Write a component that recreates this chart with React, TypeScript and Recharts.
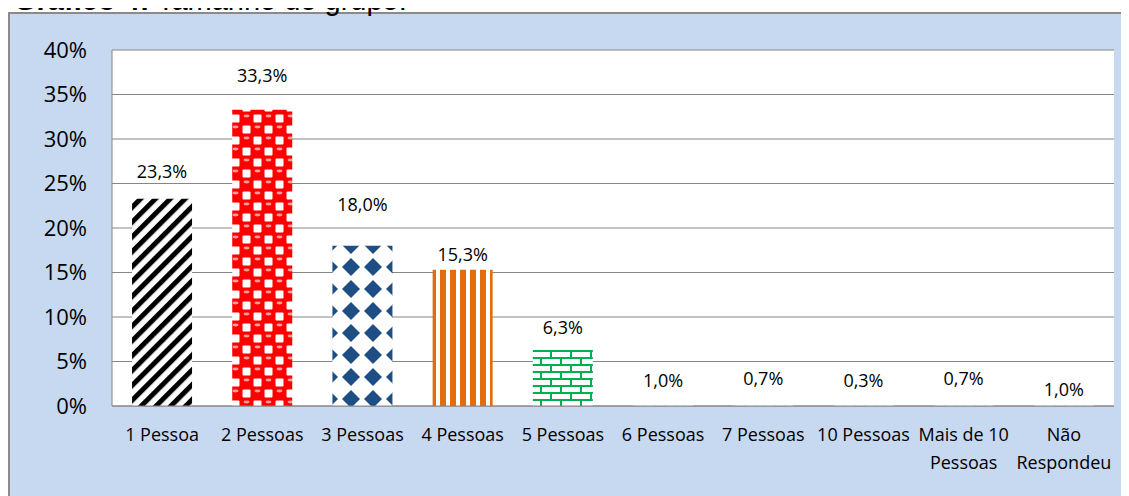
import React from 'react';
import {
  BarChart,
  Bar,
  XAxis,
  YAxis,
  CartesianGrid,
  Cell,
  LabelList,
} from 'recharts';

/**
 * Gráfico 4 - Tamanho do grupo
 */

const categories = [
  '1 Pessoa',
  '2 Pessoas',
  '3 Pessoas',
  '4 Pessoas',
  '5 Pessoas',
  '6 Pessoas',
  '7 Pessoas',
  '10 Pessoas',
  'Mais de 10\nPessoas',
  'Não\nRespondeu',
];

const percentages = [23.3, 33.3, 18.0, 15.3, 6.3, 1.0, 0.7, 0.3, 0.7, 1.0];

const yTicks = [0, 5, 10, 15, 20, 25, 30, 35, 40];

const patternIds = ['pStripes', 'pBalls', 'pDiamonds', 'pOrange', 'pBrick', 'pFaint', 'pFaint', 'pFaint', 'pFaint', 'pFaint'];

const data = categories.map((name, i) => ({ name, value: percentages[i] }));

// how far each data label sits above its bar (Excel placed them unevenly)
const LABEL_LIFT = [28, 35, 42, 16, 23, 17, 22, 23, 22, 8];

const FONT = '"Open Sans", "DejaVu Sans", sans-serif';

const fmtPct = (v: number) => `${v.toFixed(1).replace('.', ',')}%`;

const CategoryTick = ({ x, y, payload }: any) => {
  const lines = String(payload.value).split('\n');
  return (
    <text x={x} y={y} textAnchor="middle" fill="#000" fontSize={18} fontFamily={FONT}>
      {lines.map((l, i) => (
        <tspan key={i} x={x} dy={i === 0 ? 35 : 28}>
          {l}
        </tspan>
      ))}
    </text>
  );
};

const ValueLabel = (props: any) => {
  const { x, y, width, value, index } = props;
  const lift = typeof index === 'number' ? LABEL_LIFT[index] ?? 25 : 25;
  return (
    <text
      x={Number(x) + Number(width) / 2}
      y={Number(y) - lift}
      textAnchor="middle"
      dominantBaseline="central"
      fill="#000"
      fontSize={18}
      fontFamily={FONT}
    >
      {fmtPct(Number(value))}
    </text>
  );
};

const Patterns = () => (
  <svg width={0} height={0} style={{ position: 'absolute' }}>
    <defs>
      <pattern id="pStripes" width={10.5} height={10.5} patternUnits="userSpaceOnUse" patternTransform="rotate(45)">
        <rect width={10.5} height={10.5} fill="#fff" />
        <rect width={5} height={10.5} fill="#000" />
      </pattern>
      <pattern id="pBalls" width={22} height={22} patternUnits="userSpaceOnUse">
        <rect width={22} height={22} fill="#ff0000" />
        <rect x={12.5} y={1.5} width={8} height={8} rx={1} fill="#fff" />
        <rect x={1.5} y={12.5} width={8} height={8} rx={1} fill="#fff" />
        <ellipse cx={5.5} cy={3} rx={3} ry={1.4} fill="#ff9c9c" />
        <ellipse cx={16.5} cy={14} rx={3} ry={1.4} fill="#ff9c9c" />
      </pattern>
      <pattern id="pDiamonds" width={22} height={22} patternUnits="userSpaceOnUse">
        <rect width={22} height={22} fill="#fff" />
        <polygon points="11,2 20,11 11,20 2,11" fill="#1f4e85" />
      </pattern>
      <pattern id="pOrange" width={10} height={10} patternUnits="userSpaceOnUse">
        <rect width={10} height={10} fill="#fff" />
        <rect width={6} height={10} fill="#e46c0a" />
      </pattern>
      <pattern id="pBrick" width={20} height={14} patternUnits="userSpaceOnUse">
        <rect width={20} height={14} fill="#fff" />
        <rect y={0} width={20} height={2} fill="#00b050" />
        <rect y={7} width={20} height={2} fill="#00b050" />
        <rect x={0} y={0} width={2} height={7} fill="#00b050" />
        <rect x={10} y={7} width={2} height={7} fill="#00b050" />
      </pattern>
      <pattern id="pFaint" width={10} height={10} patternUnits="userSpaceOnUse">
        <rect width={10} height={10} fill="#fff" />
        <circle cx={5} cy={2} r={0.8} fill="#d0d4e0" />
      </pattern>
    </defs>
  </svg>
);

export default function App() {
  return (
    <div style={{ position: 'relative', paddingTop: 4 }}>
      <Patterns />
      <div
        style={{
          position: 'absolute',
          zIndex: 1,
          top: -22,
          left: 6,
          fontFamily: '"Liberation Sans", Arial, sans-serif',
          fontSize: 29,
          lineHeight: '29px',
          whiteSpace: 'nowrap',
          color: '#000',
        }}
      >
        <b>Gráfico 4:</b> Tamanho do grupo.
      </div>
      <div
        style={{
          width: 1121,
          height: 484,
          boxSizing: 'border-box',
          background: '#c6d9f1',
          borderLeft: '2px solid #8a8a8a',
          borderTop: '2px solid #8a8a8a',
        }}
      >
        <BarChart
          width={1119}
          height={482}
          data={data}
          margin={{ top: 36, right: 15, left: 0, bottom: 0 }}
          barCategoryGap="20%"
        >
          <CartesianGrid vertical={false} stroke="#868686" fill="#fff" />
          <XAxis
            dataKey="name"
            interval={0}
            height={90}
            tickSize={0}
            tickMargin={0}
            axisLine={{ stroke: '#868686' }}
            tick={<CategoryTick />}
          />
          <YAxis
            width={102}
            domain={[0, 40]}
            ticks={yTicks}
            interval={0}
            tickSize={0}
            tickMargin={25}
            tickFormatter={(v: number) => `${v}%`}
            axisLine={{ stroke: '#868686' }}
            tick={{ fill: '#000', fontSize: 22, fontFamily: FONT }}
          />
          <Bar dataKey="value" isAnimationActive={false}>
            {data.map((_, i) => (
              <Cell key={`cell-${i}`} fill={`url(#${patternIds[i]})`} />
            ))}
            <LabelList dataKey="value" content={<ValueLabel />} />
          </Bar>
        </BarChart>
      </div>
    </div>
  );
}
